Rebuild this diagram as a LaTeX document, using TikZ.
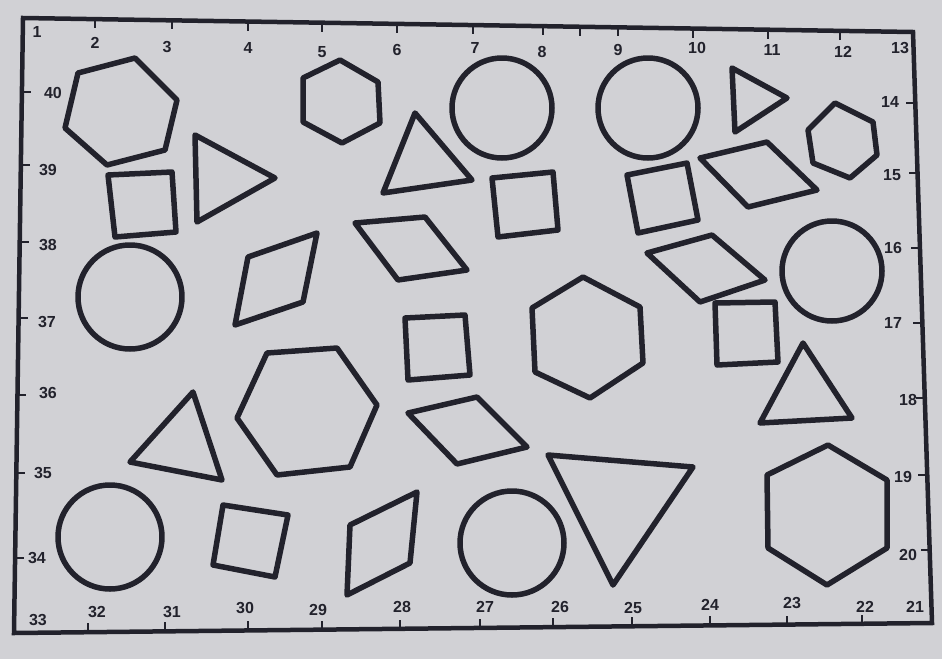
\documentclass[tikz,border=0pt]{standalone}
\usepackage{fontspec}
\setmainfont{Liberation Sans}
\definecolor{paper}{RGB}{209,209,213}
\definecolor{ink}{RGB}{34,34,44}
\begin{document}
\begin{tikzpicture}[x=1pt,y=-1pt,
  shp/.style={draw=ink,line width=5.5pt,line join=round},
  lbl/.style={font=\fontsize{16}{16}\selectfont\bfseries,text=ink,inner sep=0pt},
  tickmark/.style={draw=ink,line width=2.2pt}]
\fill[paper] (0,0) rectangle (942,659);
\useasboundingbox (0,0) rectangle (942,659);
% frame
\draw[ink,line width=4.5pt,line join=miter] (23,18) -- (913,32) -- (932,623) -- (14,633) -- cycle;
% ticks
\foreach \x in {95,172,248,322,397,473,543,580,618,693,768,840}
  \draw[tickmark] (\x,{18+(\x-23)*0.01573}) -- ++(0,9);
\foreach \x in {88,165,248,322,400,480,553,632,710,787,862}
  \draw[tickmark] (\x,{633-(\x-14)*0.01089}) -- ++(0,-9);
\foreach \y in {92,165,242,318,395,473,558}
  \draw[tickmark] ({23-(\y-18)*0.01466},\y) -- ++(9,0);
\foreach \y in {103,173,248,323,398,475,550}
  \draw[tickmark] ({913+(\y-32)*0.03215},\y) -- ++(-9,0);
% top labels
\foreach \t/\x/\y in {1/37/32,2/95/43,3/167/47,4/248/48,5/322/52,6/397/50,7/475/48,8/542/52,9/618/50,10/697/48,11/772/50,12/843/52,13/900/48}
  \node[lbl] (top\t) at (\x,\y) {\t};
% right labels
\foreach \t/\x/\y in {14/890/102,15/892/175,16/893/248,17/893/323,18/908/400,19/903/477,20/908/555,21/915/607}
  \node[lbl] (rgt\t) at (\x,\y) {\t};
% bottom labels
\foreach \t/\x/\y in {33/38/620,32/97/612,31/172/612,30/245/608,29/318/610,28/402/607,27/485/607,26/560/607,25/633/608,24/710/605,23/792/603,22/865/607}
  \node[lbl] (bot\t) at (\x,\y) {\t};
% left labels
\foreach \t/\x/\y in {40/53/93,39/48/170,38/48/245,37/47/322,36/48/393,35/43/473,34/37/558}
  \node[lbl] (lft\t) at (\x,\y) {\t};
% circles
\draw[shp] (130,297) circle[radius=52];
\draw[shp] (502,108) circle[radius=50];
\draw[shp] (648,108) circle[radius=50];
\draw[shp] (832,271) circle[radius=50];
\draw[shp] (110,537) circle[radius=52];
\draw[shp] (512,543) circle[radius=52];
% hexagons
\draw[shp] (78,73) -- (135,58) -- (177,100) -- (165,150) -- (107,165) -- (65,128) -- cycle;
\draw[shp] (340,60) -- (378,82) -- (380,123) -- (342,143) -- (303,122) -- (303,78) -- cycle;
\draw[shp] (835,103) -- (873,122) -- (877,155) -- (850,178) -- (813,163) -- (808,130) -- cycle;
\draw[shp] (583,277) -- (640,307) -- (643,363) -- (590,398) -- (535,372) -- (532,308) -- cycle;
\draw[shp] (267,353) -- (337,348) -- (377,405) -- (350,467) -- (277,475) -- (237,418) -- cycle;
\draw[shp] (828,445) -- (887,480) -- (887,548) -- (827,585) -- (768,548) -- (767,475) -- cycle;
% squares
\draw[shp] (108,175) -- (172,172) -- (176,232) -- (115,237) -- cycle;
\draw[shp] (492,178) -- (553,172) -- (558,230) -- (498,237) -- cycle;
\draw[shp] (627,175) -- (687,163) -- (698,220) -- (638,233) -- cycle;
\draw[shp] (405,318) -- (465,315) -- (470,375) -- (408,380) -- cycle;
\draw[shp] (715,303) -- (775,302) -- (778,362) -- (717,365) -- cycle;
\draw[shp] (223,505) -- (288,515) -- (275,577) -- (213,565) -- cycle;
% triangles
\draw[shp] (195,135) -- (275,178) -- (197,222) -- cycle;
\draw[shp] (415,113) -- (472,180) -- (383,193) -- cycle;
\draw[shp] (732,68) -- (787,98) -- (735,132) -- cycle;
\draw[shp] (193,392) -- (222,480) -- (130,462) -- cycle;
\draw[shp] (548,455) -- (693,467) -- (613,585) -- cycle;
\draw[shp] (803,343) -- (852,418) -- (760,423) -- cycle;
% rhombi
\draw[shp] (248,257) -- (317,233) -- (303,302) -- (235,325) -- cycle;
\draw[shp] (355,223) -- (425,217) -- (467,270) -- (398,280) -- cycle;
\draw[shp] (700,158) -- (767,142) -- (817,190) -- (748,207) -- cycle;
\draw[shp] (647,253) -- (712,235) -- (765,280) -- (700,302) -- cycle;
\draw[shp] (408,413) -- (477,397) -- (527,447) -- (457,464) -- cycle;
\draw[shp] (350,525) -- (417,492) -- (410,563) -- (347,595) -- cycle;
\end{tikzpicture}
\end{document}
